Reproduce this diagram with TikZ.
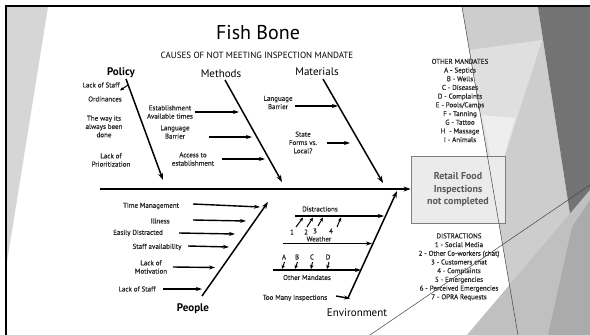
\documentclass[tikz,border=0pt]{standalone}
\usepackage{fontspec}
\setmainfont{PT Sans}
\newfontfamily\lblfont{PT Sans}[FakeBold=0.6]
\usetikzlibrary{arrows.meta}
\definecolor{lbl}{HTML}{2A2A2A}
\definecolor{leftgray}{HTML}{D6D6D6}
\definecolor{boxfill}{HTML}{EBEBEB}
\definecolor{boxline}{HTML}{7F7F7F}
\definecolor{boxtext}{HTML}{595959}
\definecolor{fA}{HTML}{CDCDCD}
\definecolor{fDark}{HTML}{737373}
\definecolor{fLight}{HTML}{DFDFDF}
\definecolor{fVLight}{HTML}{EEEEEE}
\definecolor{fMid}{HTML}{C0C0C0}
\definecolor{fMidB}{HTML}{ABABAB}
\definecolor{thinln}{HTML}{454545}
\begin{document}
\begin{tikzpicture}[x=1pt,y=-1pt,
  lab/.style={text=lbl,inner sep=0pt,align=center,font=\lblfont\fontsize{7}{8.3}\selectfont},
  lst/.style={text=lbl,inner sep=0pt,align=center,font=\lblfont\fontsize{7}{8.7}\selectfont},
  cat/.style={text=black,inner sep=0pt,font=\fontsize{11}{13}\selectfont},
  bone/.style={line width=1.5pt,-{Stealth[length=7pt,width=5pt]}},
  sub/.style={line width=1.4pt,-{Stealth[length=6pt,width=4pt]}},
  tiny/.style={line width=1pt,-{Stealth[length=4pt,width=3.5pt]}},
  thin/.style={draw=thinln,line width=0.5pt}]
\useasboundingbox (0,0) rectangle (590,335);
\fill[white] (0,0) rectangle (590,335);
% decorations
\fill[leftgray] (7,7) -- (48,7) -- (7,262) -- cycle;
\fill[fA] (462,7) -- (538,7) -- (572,227) -- (590,200) -- (590,335) -- (518,335) -- cycle;
\fill[fDark] (538,7) -- (590,7) -- (590,190) -- (572,227) -- cycle;
\fill[fLight] (469,50) -- (542,40) -- (494,190) -- cycle;
\fill[fVLight] (482,115) -- (515,118) -- (496,185) -- cycle;
\fill[fMid] (467,335) -- (590,190) -- (590,335) -- cycle;
\fill[fMidB] (572,227) -- (590,200) -- (590,335) -- (548,335) -- cycle;
\coordinate (l1a) at (462,7); \coordinate (l1b) at (518,335);
\coordinate (l2a) at (370,335); \coordinate (l2b) at (590,185);
\draw[black,line width=2.5pt] (6,345) -- (6,6) -- (600,6);

% titles
\node[inner sep=0pt,font=\fontsize{20}{24}\selectfont] (title) at (258,33) {Fish Bone};
\node[inner sep=0pt,font=\fontsize{9}{11}\selectfont] (sub) at (257,55) {CAUSES OF NOT MEETING INSPECTION MANDATE};

% effect box
\node[draw=boxline,fill=boxfill,line width=0.8pt,minimum width=94pt,minimum height=67pt,inner sep=0pt,
      align=center,text=boxtext,font=\bfseries\fontsize{10}{12.5}\selectfont] (eff) at (458,189.5)
      {Retail Food\\Inspections\\not completed};

% category labels
\node[cat,font=\bfseries\fontsize{11}{13}\selectfont] (policy) at (121,73) {Policy};
\node[cat] (methods) at (221,74) {Methods};
\node[cat] (materials) at (317,72) {Materials};
\node[cat,font=\bfseries\fontsize{11}{13}\selectfont] (people) at (193,309) {People};
\node[cat] (environment) at (357,313) {Environment};

% spine and bones
\coordinate (sp0) at (100,189);
\draw[bone,line width=2pt] (sp0) -- (eff.west |- sp0);
\coordinate (po0) at (126,79); \coordinate (po1) at (163,180);
\coordinate (me0) at (225,80); \coordinate (me1) at (282,182);
\coordinate (ma0) at (323,79); \coordinate (ma1) at (383,183);
\coordinate (pe0) at (202,296); \coordinate (pe1) at (268,202);
\coordinate (en0) at (348,298); \coordinate (en1) at (397,191);
\draw[bone] (po0) -- (po1);
\draw[bone] (me0) -- (me1);
\draw[bone] (ma0) -- (ma1);
\draw[bone] (pe0) -- (pe1);
\draw[bone] (en0) -- (en1);

% policy causes
\node[lab] (p1) at (101,85) {Lack of Staff};
\node[lab] (p2) at (105,99) {Ordinances};
\node[lab] (p3) at (104,126.5) {The way its\\always been\\done};
\node[lab] (p4) at (111,160) {Lack of\\Prioritization};
\coordinate (p1s) at (128,85); \coordinate (p1e) at (120,90.5);
\draw[tiny] (p1s) -- (p1e);

% methods causes
\node[lab] (m1) at (170,112) {Establishment\\Available times};
\node[lab] (m2) at (175,132) {Language\\Barrier};
\node[lab] (m3) at (193,159) {Access to\\establishment};
\coordinate (m1s) at (195,112); \coordinate (m1e) at (239,112);
\coordinate (m2s) at (209,137); \coordinate (m2e) at (252,137);
\coordinate (m3s) at (222,159); \coordinate (m3e) at (265,159);
\draw[sub] (m1s) -- (m1e);
\draw[sub] (m2s) -- (m2e);
\draw[sub] (m3s) -- (m3e);

% materials causes
\node[lab] (a1) at (278,102.5) {Language\\Barrier};
\node[lab] (a2) at (303,142.5) {State\\Forms vs.\\Local?};
\coordinate (a1s) at (295,106); \coordinate (a1e) at (338,106);
\coordinate (a2s) at (327,143); \coordinate (a2e) at (350,143);
\draw[sub] (a1s) -- (a1e);
\draw[sub] (a2s) -- (a2e);

% people causes
\node[lab] (q1) at (151,206) {Time Management};
\node[lab] (q2) at (160,221) {Illness};
\node[lab] (q3) at (138,233) {Easily Distracted};
\node[lab] (q4) at (157,247) {Staff availability};
\node[lab] (q5) at (151,267) {Lack of\\Motivation};
\node[lab] (q6) at (137,289) {Lack of Staff};
\coordinate (q1s) at (193,204); \coordinate (q1e) at (260,207);
\coordinate (q2s) at (193,220); \coordinate (q2e) at (246,221);
\coordinate (q3s) at (179,233); \coordinate (q3e) at (235,234);
\coordinate (q4s) at (188,246); \coordinate (q4e) at (229,247);
\coordinate (q5s) at (173,267); \coordinate (q5e) at (215,267.5);
\coordinate (q6s) at (163,289); \coordinate (q6e) at (202,289);
\draw[sub] (q1s) -- (q1e);
\draw[sub] (q2s) -- (q2e);
\draw[sub] (q3s) -- (q3e);
\draw[sub] (q4s) -- (q4e);
\draw[sub] (q5s) -- (q5e);
\draw[sub] (q6s) -- (q6e);

% environment causes
\node[lab] (e1) at (320,209) {Distractions};
\coordinate (e1s) at (295,216); \coordinate (e1e) at (384,216);
\draw[sub] (e1s) -- (e1e);
\node[lab] (d1) at (292,232) {1};
\node[lab] (d2) at (306,232) {2};
\node[lab] (d3) at (315,231) {3};
\node[lab] (d4) at (331,231) {4};
\coordinate (d1s) at (296,227); \coordinate (d1e) at (303,217.5);
\coordinate (d2s) at (307,227); \coordinate (d2e) at (313,217.5);
\coordinate (d3s) at (318,226); \coordinate (d3e) at (323,217.5);
\coordinate (d4s) at (337,227); \coordinate (d4e) at (341,217.5);
\draw[tiny] (d1s) -- (d1e);
\draw[tiny] (d2s) -- (d2e);
\draw[tiny] (d3s) -- (d3e);
\draw[tiny] (d4s) -- (d4e);

\node[lab] (e2) at (319,239) {Weather};
\coordinate (e2s) at (283,243.5); \coordinate (e2e) at (372,243.5);
\draw[sub] (e2s) -- (e2e);

\node[lab] (e3) at (307,277.5) {Other Mandates};
\coordinate (e3s) at (273,270); \coordinate (e3e) at (361,270);
\draw[sub] (e3s) -- (e3e);
\node[lab] (o1) at (284,257) {A};
\node[lab] (o2) at (297,257) {B};
\node[lab] (o3) at (312,257) {C};
\node[lab] (o4) at (328,257) {D};
\coordinate (o1s) at (284.5,262); \coordinate (o1e) at (282,269);
\coordinate (o2s) at (297.5,262); \coordinate (o2e) at (295,269);
\coordinate (o3s) at (312.5,262); \coordinate (o3e) at (311,269);
\coordinate (o4s) at (329,262); \coordinate (o4e) at (327,269);
\draw[tiny] (o1s) -- (o1e);
\draw[tiny] (o2s) -- (o2e);
\draw[tiny] (o3s) -- (o3e);
\draw[tiny] (o4s) -- (o4e);

\node[lab] (e4) at (295,298) {Too Many Inspections};
\coordinate (e4s) at (336,296); \coordinate (e4e) at (350,298.5);
\draw[sub] (e4s) -- (e4e);

% legends
\node[lst] (om) at (460,100.5) {OTHER MANDATES\\A - Septics\\B - Wells\\C - Diseases\\D - Complaints\\E - Pools/Camps\\F - Tanning\\G - Tattoo\\H\ \ - Massage\\I - Animals};
\node[lst] (ds) at (459,267) {DISTRACTIONS\\1 - Social Media\\2 - Other Co-workers (chat)\\3 - Customers chat\\4 - Complaints\\5 - Emergencies\\6 - Perceived Emergencies\\7 - OPRA Requests};

% overlay thin lines of the theme
\draw[thin] (l1a) -- (l1b);
\draw[thin] (l2a) -- (l2b);
\end{tikzpicture}
\end{document}
